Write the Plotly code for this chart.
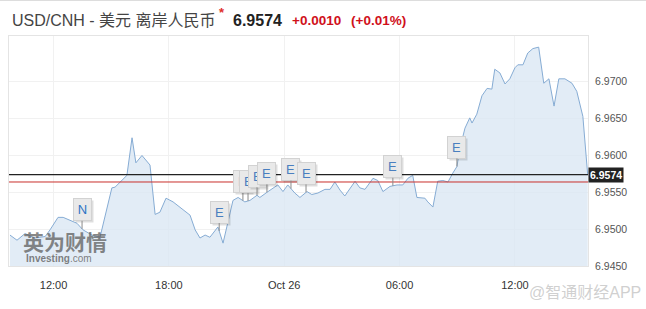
import numpy as np
import pandas as pd
import plotly.graph_objects as go

# ---------------- data ----------------
times = [
    "2018-10-25 09:44", "2018-10-25 10:06", "2018-10-25 10:31", "2018-10-25 11:02", "2018-10-25 11:34",
    "2018-10-25 11:49", "2018-10-25 12:14", "2018-10-25 12:30", "2018-10-25 13:13", "2018-10-25 13:32",
    "2018-10-25 14:00", "2018-10-25 14:25", "2018-10-25 15:02", "2018-10-25 15:12", "2018-10-25 15:49",
    "2018-10-25 16:05", "2018-10-25 16:17", "2018-10-25 16:36", "2018-10-25 17:01", "2018-10-25 17:17",
    "2018-10-25 17:32", "2018-10-25 17:51", "2018-10-25 18:13", "2018-10-25 19:06", "2018-10-25 19:22",
    "2018-10-25 19:37", "2018-10-25 19:53", "2018-10-25 20:08", "2018-10-25 20:33", "2018-10-25 20:49",
    "2018-10-25 21:20", "2018-10-25 21:36", "2018-10-25 21:57", "2018-10-25 22:13", "2018-10-25 22:35",
    "2018-10-25 22:44", "2018-10-25 23:06", "2018-10-25 23:25", "2018-10-25 23:40", "2018-10-25 23:56",
    "2018-10-26 00:11", "2018-10-26 00:33", "2018-10-26 00:49", "2018-10-26 01:11", "2018-10-26 01:26",
    "2018-10-26 01:45", "2018-10-26 02:07", "2018-10-26 02:23", "2018-10-26 02:38", "2018-10-26 02:54",
    "2018-10-26 03:09", "2018-10-26 03:41", "2018-10-26 03:56", "2018-10-26 04:12", "2018-10-26 04:37",
    "2018-10-26 04:52", "2018-10-26 05:08", "2018-10-26 05:30", "2018-10-26 05:52", "2018-10-26 06:10",
    "2018-10-26 06:26", "2018-10-26 06:41", "2018-10-26 06:54", "2018-10-26 07:19", "2018-10-26 07:28",
    "2018-10-26 07:44", "2018-10-26 07:59", "2018-10-26 08:15", "2018-10-26 08:31", "2018-10-26 08:46",
    "2018-10-26 08:59", "2018-10-26 09:08", "2018-10-26 09:24", "2018-10-26 09:39", "2018-10-26 09:46",
    "2018-10-26 10:01", "2018-10-26 10:17", "2018-10-26 10:33", "2018-10-26 10:48", "2018-10-26 10:57",
    "2018-10-26 11:13", "2018-10-26 11:29", "2018-10-26 11:44", "2018-10-26 12:00", "2018-10-26 12:09",
    "2018-10-26 12:25", "2018-10-26 12:40", "2018-10-26 12:56", "2018-10-26 13:14", "2018-10-26 13:30",
    "2018-10-26 13:46", "2018-10-26 14:02", "2018-10-26 14:17", "2018-10-26 14:36", "2018-10-26 14:58",
    "2018-10-26 15:13", "2018-10-26 15:32", "2018-10-26 15:47",
]
prices = [
    6.9492, 6.9485, 6.9494, 6.9488, 6.9490,
    6.9499, 6.9516, 6.9516, 6.9508, 6.9499,
    6.9492, 6.9489, 6.9556, 6.9557, 6.9573,
    6.9624, 6.9590, 6.9600, 6.9587, 6.9520,
    6.9523, 6.9542, 6.9537, 6.9519, 6.9499,
    6.9488, 6.9492, 6.9489, 6.9503, 6.9481,
    6.9539, 6.9543, 6.9537, 6.9539, 6.9546,
    6.9543, 6.9550, 6.9556, 6.9560, 6.9551,
    6.9560, 6.9549, 6.9543, 6.9551, 6.9547,
    6.9549, 6.9554, 6.9554, 6.9564, 6.9553,
    6.9545, 6.9565, 6.9556, 6.9554, 6.9569,
    6.9566, 6.9551, 6.9558, 6.9560, 6.9560,
    6.9569, 6.9573, 6.9543, 6.9542, 6.9537,
    6.9530, 6.9565, 6.9566, 6.9564, 6.9576,
    6.9585, 6.9609, 6.9637, 6.9651, 6.9644,
    6.9656, 6.9681, 6.9691, 6.9690, 6.9717,
    6.9712, 6.9697, 6.9704, 6.9719, 6.9723,
    6.9723, 6.9739, 6.9745, 6.9747, 6.9698,
    6.9704, 6.9667, 6.9704, 6.9704, 6.9698,
    6.9687, 6.9653, 6.9574,
]

last_price = 6.9574
prev_close = 6.9564
change_text = "+0.0010"
change_pct_text = "(+0.01%)"

event_times = [
    "2018-10-25 13:29", "2018-10-25 20:37", "2018-10-25 21:51", "2018-10-25 22:07",
    "2018-10-25 22:35", "2018-10-25 23:06", "2018-10-26 00:21", "2018-10-26 01:08",
    "2018-10-26 05:39", "2018-10-26 08:59",
]
event_labels = ["N", "E", "E", "E", "E", "E", "E", "E", "E", "E"]

x_tick_vals = ["2018-10-25 12:00", "2018-10-25 18:00", "2018-10-26 00:00",
               "2018-10-26 06:00", "2018-10-26 12:00"]
x_tick_text = ["12:00", "18:00", "Oct 26", "06:00", "12:00"]
y_tick_vals = [6.9450, 6.9500, 6.9550, 6.9600, 6.9650, 6.9700]

x_range = ["2018-10-25 09:41", "2018-10-26 15:48"]
y_range = [6.9450, 6.97621]

# ---------------- figure ----------------
FONT = "Liberation Sans, Arial, Noto Sans CJK SC, sans-serif"
W, H = 646, 309
ML, MR, MT, MB = 9, 58, 36, 43
PW, PH = W - ML - MR, H - MT - MB


def px(xp):
    return (xp - ML) / PW


def py(yp):
    return (H - MB - yp) / PH


fig = go.Figure()
fig.add_trace(go.Scatter(
    x=pd.to_datetime(times), y=prices, mode="lines",
    line=dict(color="#86acd4", width=1),
    fill="tozeroy", fillcolor="rgba(216,230,243,0.75)",
    hoverinfo="skip", showlegend=False,
))

shapes = [
    dict(type="line", xref="paper", yref="y", x0=0, x1=1, y0=prev_close, y1=prev_close,
         line=dict(color="#c9302c", width=1)),
    dict(type="line", xref="paper", yref="y", x0=0, x1=1, y0=last_price, y1=last_price,
         line=dict(color="#222222", width=1.2)),
    dict(type="line", xref="paper", yref="paper", x0=px(0), x1=px(W), y0=py(0.5), y1=py(0.5),
         line=dict(color="#dddddd", width=1)),
]

ann = []
# title row
ann.append(dict(xref="paper", yref="paper", x=px(10), y=py(21), xanchor="left", yanchor="middle",
                text="USD/CNH - 美元 离岸人民币", showarrow=False,
                font=dict(family=FONT, size=16, color="#444444")))
ann.append(dict(xref="paper", yref="paper", x=px(222), y=py(13), xanchor="center", yanchor="middle",
                text="<b>*</b>", showarrow=False, font=dict(family=FONT, size=13, color="#e0302a")))
ann.append(dict(xref="paper", yref="paper", x=px(231), y=py(21), xanchor="left", yanchor="middle",
                text="<b>%.4f</b>" % last_price, showarrow=False,
                font=dict(family=FONT, size=16, color="#222222")))
ann.append(dict(xref="paper", yref="paper", x=px(290), y=py(21), xanchor="left", yanchor="middle",
                text="<b>%s</b>" % change_text, showarrow=False,
                font=dict(family=FONT, size=13.5, color="#d0101b")))
ann.append(dict(xref="paper", yref="paper", x=px(349), y=py(21), xanchor="left", yanchor="middle",
                text="<b>%s</b>" % change_pct_text, showarrow=False,
                font=dict(family=FONT, size=13.5, color="#d0101b")))

# last price tag
ann.append(dict(xref="paper", yref="y", x=1, y=last_price, xanchor="left", yanchor="middle",
                text="<b>%.4f</b>" % last_price, showarrow=False, bgcolor="#222222",
                borderpad=1, font=dict(family=FONT, size=10.5, color="#ffffff")))

# event flags
t_num = pd.to_datetime(times).astype("int64").to_numpy()
e_dt = pd.to_datetime(event_times)
e_num = e_dt.astype("int64").to_numpy()
e_val = np.interp(e_num, t_num, prices)
for t, v, lab in zip(e_dt, e_val, event_labels):
    common = dict(x=t, y=v, xref="x", yref="y", showarrow=True, arrowhead=0,
                  ax=0, ay=-19, width=15, height=19, borderpad=1, standoff=0)
    ann.append(dict(common, text=" ", xshift=2, yshift=-2, bgcolor="rgba(0,0,0,0.13)",
                    bordercolor="rgba(0,0,0,0)", arrowcolor="rgba(0,0,0,0)",
                    font=dict(family=FONT, size=13, color="rgba(0,0,0,0)")))
    ann.append(dict(common, text=lab, bgcolor="#e9e9e9", bordercolor="#d2d2d2", borderwidth=1,
                    arrowcolor="#8a8a8a", arrowwidth=1,
                    font=dict(family=FONT, size=13,
                              color="#2d74c4" if lab == "N" else "#4a7fbf")))

# watermarks
ann.append(dict(xref="paper", yref="paper", x=px(65), y=py(242), xanchor="center", yanchor="middle",
                text="<b>英为财情</b>", showarrow=False,
                font=dict(family=FONT, size=21, color="rgba(95,95,95,0.75)")))
ann.append(dict(xref="paper", yref="paper", x=px(24), y=py(258), xanchor="left", yanchor="middle",
                text="<b>Investing</b>.com", showarrow=False,
                font=dict(family=FONT, size=10, color="rgba(105,105,105,0.85)")))
ann.append(dict(xref="paper", yref="paper", x=px(585), y=py(292), xanchor="center", yanchor="middle",
                text="@智通财经APP", showarrow=False,
                font=dict(family=FONT, size=16, color="rgba(205,205,205,0.95)")))

fig.update_layout(
    width=W, height=H, margin=dict(l=ML, r=MR, t=MT, b=MB, pad=0),
    paper_bgcolor="#ffffff", plot_bgcolor="#ffffff",
    shapes=shapes, annotations=ann, showlegend=False,
    xaxis=dict(type="date", range=x_range, tickvals=x_tick_vals, ticktext=x_tick_text,
               showgrid=True, gridcolor="#f1f1f1", gridwidth=1, zeroline=False,
               showline=True, linecolor="#e4e4e4", mirror=True, ticks="",
               ticklabelstandoff=9, tickfont=dict(family=FONT, size=11, color="#333333")),
    yaxis=dict(side="right", range=y_range, tickvals=y_tick_vals, tickformat=".4f",
               showgrid=True, gridcolor="#f1f1f1", gridwidth=1, zeroline=False,
               showline=True, linecolor="#e4e4e4", mirror=True, ticks="",
               ticklabelstandoff=4, tickfont=dict(family=FONT, size=10.5, color="#555555")),
)

fig.write_html("out.html")
